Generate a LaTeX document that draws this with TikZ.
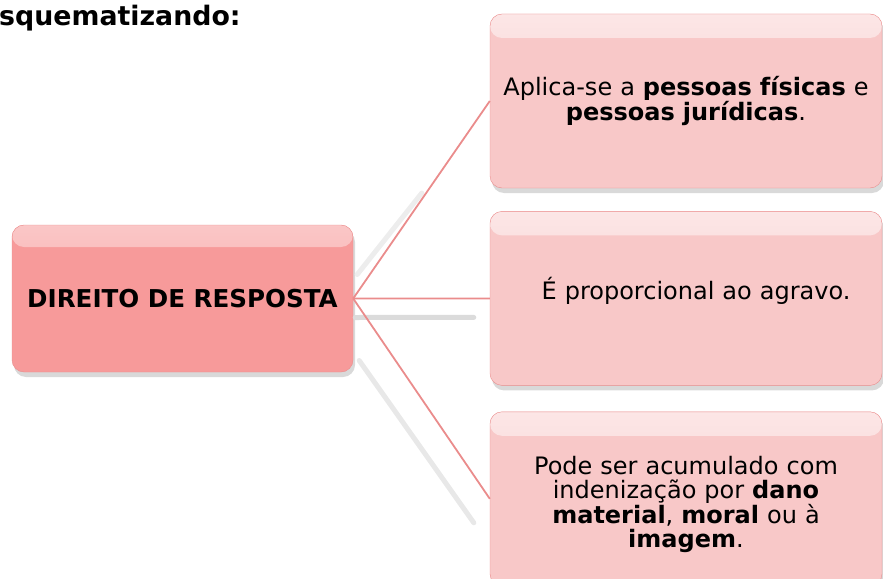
\documentclass[tikz,border=0pt]{standalone}
\usepackage{fontspec}
\setmainfont{DejaVu Sans}
\usetikzlibrary{positioning, shadows}
\definecolor{rootfill}{RGB}{247,154,154}
\definecolor{leaffill}{RGB}{248,200,200}
\definecolor{edgepink}{RGB}{234,140,140}
\tikzstyle{rootbox} = [%
  rectangle,
  rounded corners=12pt,
  draw=edgepink,
  fill=rootfill,
  minimum width=341pt,
  minimum height=147pt,
  align=center,
  text centered,
  inner sep=0pt,
  font=\fontsize{24.6}{26}\selectfont\bfseries,
  drop shadow={shadow xshift=2pt,shadow yshift=-5pt,opacity=0.3},
  path picture={\shade[top color=white!45!rootfill,bottom color=rootfill]
    ([yshift=2pt]path picture bounding box.north west) rectangle
    ([yshift=-22pt]path picture bounding box.north east);}
]
\tikzstyle{leafbox} = [%
  rectangle,
  rounded corners=12pt,
  draw=edgepink,
  fill=leaffill,
  minimum width=392pt,
  minimum height=174pt,
  text width=380pt,
  align=center,
  inner sep=0pt,
  font=\fontsize{24}{24}\selectfont,
  drop shadow={shadow xshift=2pt,shadow yshift=-5pt,opacity=0.3},
  path picture={\shade[top color=white!55!leaffill,bottom color=leaffill]
    ([yshift=2pt]path picture bounding box.north west) rectangle
    ([yshift=-24pt]path picture bounding box.north east);}
]

\begin{document}
\begin{tikzpicture}[%
  x=1pt, y=-1pt,
  link/.style={draw=edgepink,line width=1.8pt},
  linkshadow/.style={draw=black!14,line width=5pt,line cap=round}
]
  \useasboundingbox (0,0) rectangle (883,578);
  \clip (0,0) rectangle (883,578);

  % Nodes
  \node[anchor=base west,inner sep=0pt,
    font=\fontsize{26.8}{28}\selectfont\bfseries] (title) at (-1,26) {squematizando:};
  \node[rootbox] (root) at (182.5,298.5) {DIREITO DE RESPOSTA};
  \node[leafbox] (leafA) at (686,101)
    {Aplica-se a \textbf{pessoas físicas} e\\\textbf{pessoas jurídicas}.};
  \node[leafbox,below=23pt of leafA] (leafB)
    {\hspace*{20pt}É proporcional ao agravo.\rule[-20pt]{0pt}{1pt}};
  \node[leafbox,below=26pt of leafB] (leafC)
    {\\[6pt]Pode ser acumulado com\\indenização por \textbf{dano}\\%
     \textbf{material}, \textbf{moral} ou à\\\textbf{imagem}.};

  % Shadows of the links
  \draw[linkshadow,draw=black!7] ([shift={(4pt,24pt)}]root.east)
    -- ([shift={(-68pt,-92pt)}]leafA.west);
  \draw[linkshadow] ([shift={(2pt,-19pt)}]root.east)
    -- ([shift={(-16pt,-19pt)}]leafB.west);
  \draw[linkshadow,draw=black!9] ([shift={(6pt,-62pt)}]root.east)
    -- ([shift={(-16pt,-24pt)}]leafC.west);

  % Links
  \draw[link] (root.east) -- (leafA.west);
  \draw[link] (root.east) -- (leafB.west);
  \draw[link] (root.east) -- (leafC.west);

\end{tikzpicture}
\end{document}
